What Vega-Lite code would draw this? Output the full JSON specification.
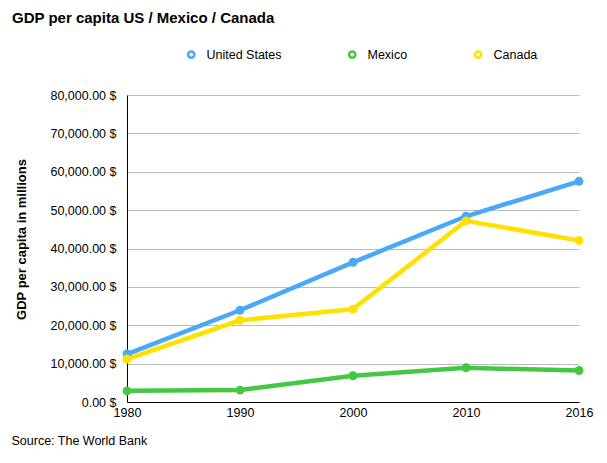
{
  "$schema": "https://vega.github.io/schema/vega-lite/v6.json",
  "width": 452,
  "height": 307,
  "autosize": {"type": "none"},
  "padding": {"left": 127, "top": 95, "right": 28, "bottom": 61},
  "background": "white",
  "title": {
    "text": "GDP per capita US / Mexico / Canada",
    "anchor": "start",
    "frame": "group",
    "dx": -115,
    "font": "Liberation Sans",
    "fontSize": 15,
    "fontWeight": "bold",
    "color": "#000000",
    "orient": "none",
    "dy": -84
  },
  "data": {
    "values": [
      {"year": "1980", "country": "United States", "gdp": 12500},
      {"year": "1990", "country": "United States", "gdp": 23900},
      {"year": "2000", "country": "United States", "gdp": 36400},
      {"year": "2010", "country": "United States", "gdp": 48400},
      {"year": "2016", "country": "United States", "gdp": 57500},
      {"year": "1980", "country": "Mexico", "gdp": 2900},
      {"year": "1990", "country": "Mexico", "gdp": 3100},
      {"year": "2000", "country": "Mexico", "gdp": 6850},
      {"year": "2010", "country": "Mexico", "gdp": 8900},
      {"year": "2016", "country": "Mexico", "gdp": 8200},
      {"year": "1980", "country": "Canada", "gdp": 11200},
      {"year": "1990", "country": "Canada", "gdp": 21300},
      {"year": "2000", "country": "Canada", "gdp": 24200},
      {"year": "2010", "country": "Canada", "gdp": 47200},
      {"year": "2016", "country": "Canada", "gdp": 42100}
    ]
  },
  "encoding": {
    "x": {
      "field": "year",
      "type": "ordinal",
      "sort": null,
      "scale": {"type": "point", "padding": 0},
      "axis": {
        "labelAngle": 0,
        "ticks": false,
        "labelPadding": 4,
        "labelOverlap": false,
        "domainColor": "#000000",
        "labelFont": "Liberation Sans",
        "labelFontSize": 12.5,
        "labelColor": "#000000",
        "title": "Source: The World Bank",
        "titleFont": "Liberation Sans",
        "titleFontSize": 12.5,
        "titleFontWeight": "normal",
        "titleColor": "#000000",
        "titleAnchor": "start",
        "titleAlign": "left",
        "titleX": -116,
        "titleY": 42,
        "titleBaseline": "alphabetic"
      }
    },
    "y": {
      "field": "gdp",
      "type": "quantitative",
      "scale": {"domain": [0, 80000]},
      "axis": {
        "values": [0, 10000, 20000, 30000, 40000, 50000, 60000, 70000, 80000],
        "labelExpr": "format(datum.value, ',.2f') + ' $'",
        "labelOverlap": false,
        "ticks": false,
        "labelPadding": 11,
        "domainColor": "#000000",
        "gridColor": "#bbbbbb",
        "labelFont": "Liberation Sans",
        "labelFontSize": 12.5,
        "labelColor": "#000000",
        "title": "GDP per capita in millions",
        "titleFont": "Liberation Sans",
        "titleFontSize": 13,
        "titleFontWeight": "bold",
        "titleColor": "#000000",
        "titleX": -99,
        "titleY": 144,
        "titleAnchor": "middle"
      }
    }
  },
  "layer": [
    {
      "mark": {"type": "line", "strokeWidth": 4.5},
      "encoding": {
        "stroke": {
          "field": "country",
          "type": "nominal",
          "sort": ["United States", "Mexico", "Canada"],
          "scale": {
            "domain": ["United States", "Mexico", "Canada"],
            "range": ["#4aa8f7", "#44c844", "#ffe100"]
          },
          "legend": {
            "orient": "none",
            "direction": "horizontal",
            "legendX": 58,
            "legendY": -47,
            "title": null,
            "symbolType": "circle",
            "symbolSize": 40,
            "symbolStrokeWidth": 2.5,
            "symbolFillColor": "white",
            "labelFont": "Liberation Sans",
            "labelFontSize": 12.5,
            "labelColor": "#000000",
            "columnPadding": 62,
            "labelOffset": 9
          }
        }
      }
    },
    {
      "mark": {"type": "circle", "size": 80, "opacity": 1},
      "encoding": {
        "fill": {
          "field": "country",
          "type": "nominal",
          "scale": {
            "domain": ["United States", "Mexico", "Canada"],
            "range": ["#4aa8f7", "#44c844", "#ffe100"]
          },
          "legend": null
        }
      }
    }
  ],
  "resolve": {"legend": {"fill": "independent", "stroke": "independent"}},
  "config": {"view": {"stroke": null}}
}
